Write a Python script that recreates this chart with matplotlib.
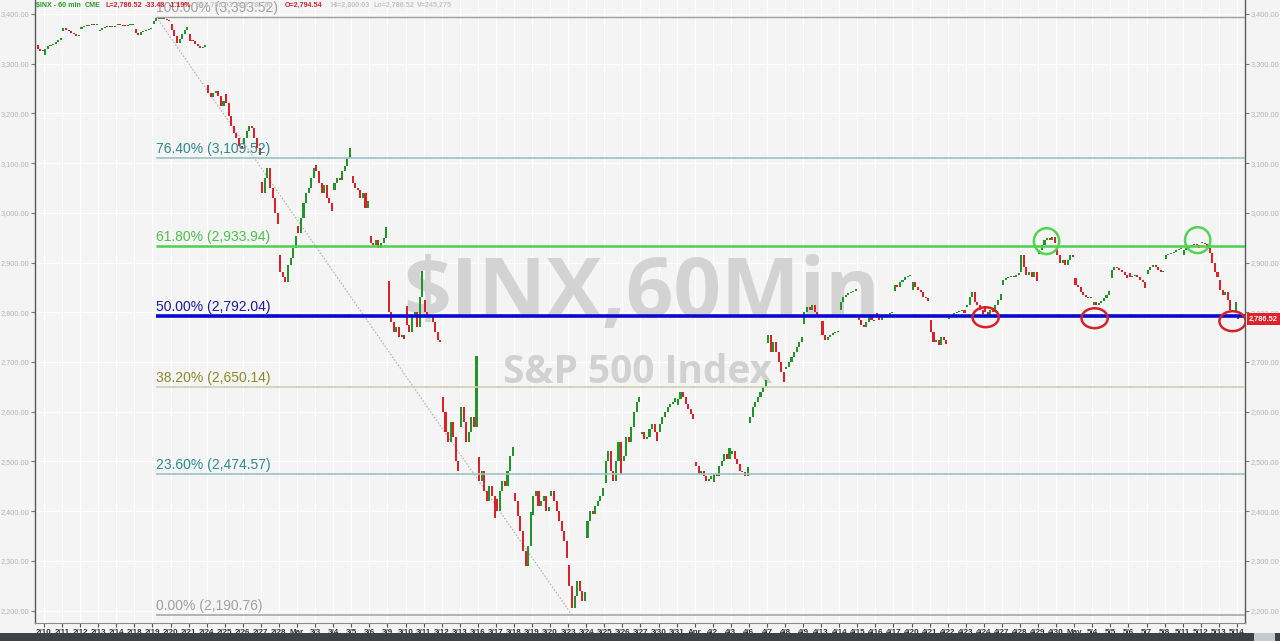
import numpy as np
import matplotlib.pyplot as plt
from matplotlib.patches import Ellipse, Rectangle

nan = float("nan")

# trading days, 2/7 sits just left of the visible window
day_labels = ["2/7", "2/10", "2/11", "2/12", "2/13", "2/14", "2/18", "2/19", "2/20", "2/21",
              "2/24", "2/25", "2/26", "2/27", "2/28", "Mar", "3/3", "3/4", "3/5", "3/6",
              "3/9", "3/10", "3/11", "3/12", "3/13", "3/16", "3/17", "3/18", "3/19", "3/20",
              "3/23", "3/24", "3/25", "3/26", "3/27", "3/30", "3/31", "Apr", "4/2", "4/3",
              "4/6", "4/7", "4/8", "4/9", "4/13", "4/14", "4/15", "4/16", "4/17", "4/20",
              "4/21", "4/22", "4/23", "4/24", "4/27", "4/28", "4/29", "4/30", "May", "5/4",
              "5/5", "5/6", "5/7", "5/8", "5/11", "5/12", "5/13", "5/14"]

day_open = [3337, 3318, 3365, 3370, 3365, 3378, 3369, 3380, 3380, 3360,
            3257, 3238, 3139, 3062, 2916, 2974, 3096, 3045, 3075, 2954,
            2863, 2813, 2825, 2630, 2570, 2508, 2425, 2436, 2393, 2431,
            2291, 2345, 2457, 2501, 2555, 2559, 2614, 2499, 2458, 2514,
            2578, 2738, 2685, 2776, 2782, 2805, 2795, 2799, 2843, 2845,
            2785, 2787, 2810, 2812, 2855, 2880, 2918, 2930, 2869, 2815,
            2868, 2878, 2877, 2908, 2915, 2939, 2865, 2794.54]

# hourly closes, 7 bars per session
feb_closes = [
    [nan, nan, nan, nan, 3330, 3326, 3327],
    [3330, 3335, 3338, 3340, 3344, 3348, 3352],
    [3372, 3368, 3365, 3362, 3360, 3356, 3357],
    [3374, 3376, 3375, 3377, 3378, 3377, 3379],
    [3368, 3372, 3374, 3375, 3373, 3376, 3373],
    [3380, 3378, 3376, 3375, 3377, 3378, 3380],
    [3362, 3358, 3363, 3366, 3368, 3370, 3370],
    [3385, 3392, 3390, 3391, 3390, 3388, 3386],
    [3368, 3355, 3342, 3350, 3360, 3367, 3373],
    [3346, 3345, 3340, 3335, 3332, 3334, 3338],
    [3240, 3232, 3240, 3245, 3235, 3215, 3225],
    [3220, 3195, 3175, 3160, 3150, 3135, 3128],
    [3150, 3165, 3175, 3170, 3150, 3130, 3116],
    [3040, 3070, 3090, 3050, 3030, 3000, 2978],
    [2880, 2870, 2860, 2895, 2910, 2930, 2954],
]
mar_closes = [
    [2960, 2990, 3020, 3040, 3050, 3070, 3090],
    [3085, 3060, 3040, 3055, 3030, 3020, 3003],
    [3060, 3070, 3065, 3085, 3095, 3110, 3130],
    [3060, 3050, 3045, 3030, 3040, 3010, 3023],
    [2940, 2935, 2945, 2930, 2940, 2950, 2972],
    [2800, 2780, 2760, 2770, 2750, 2755, 2746],
    [2775, 2760, 2790, 2800, 2770, 2830, 2882],
    [2800, 2790, 2795, 2780, 2760, 2745, 2741],
    [2600, 2560, 2540, 2580, 2550, 2500, 2480],
    [2610, 2580, 2540, 2560, 2590, 2570, 2711],
    [2460, 2480, 2440, 2420, 2450, 2430, 2386],
    [2400, 2440, 2460, 2450, 2480, 2510, 2529],
    [2420, 2390, 2360, 2320, 2290, 2330, 2398],
    [2430, 2440, 2410, 2420, 2430, 2400, 2409],
    [2440, 2420, 2400, 2380, 2360, 2340, 2305],
    [2250, 2205, 2230, 2260, 2240, 2220, 2237],
    [2380, 2400, 2395, 2410, 2420, 2430, 2447],
    [2500, 2520, 2480, 2460, 2500, 2540, 2475],
    [2510, 2550, 2540, 2570, 2600, 2620, 2630],
    [2560, 2545, 2550, 2565, 2575, 2560, 2541],
    [2575, 2590, 2600, 2610, 2615, 2620, 2627],
    [2625, 2640, 2630, 2615, 2605, 2595, 2585],
]
apr_closes = [
    [2490, 2475, 2480, 2470, 2460, 2465, 2470],
    [2475, 2470, 2490, 2500, 2515, 2505, 2526],
    [2520, 2505, 2495, 2480, 2478, 2470, 2489],
    [2590, 2610, 2620, 2630, 2640, 2650, 2664],
    [2755, 2720, 2740, 2720, 2700, 2680, 2659],
    [2690, 2700, 2710, 2720, 2730, 2740, 2750],
    [2800, 2810, 2805, 2815, 2800, 2790, 2790],
    [2755, 2745, 2750, 2755, 2758, 2760, 2762],
    [2820, 2830, 2835, 2838, 2840, 2843, 2846],
    [2785, 2775, 2770, 2780, 2790, 2785, 2783],
    [2790, 2785, 2795, 2790, 2795, 2798, 2800],
    [2855, 2850, 2860, 2865, 2870, 2872, 2875],
    [2860, 2850, 2845, 2840, 2830, 2828, 2823],
    [2760, 2740, 2745, 2735, 2750, 2745, 2736],
    [2790, 2795, 2798, 2800, 2803, 2805, 2799],
    [2815, 2830, 2840, 2820, 2815, 2805, 2797],
    [2800, 2795, 2805, 2800, 2815, 2825, 2837],
    [2865, 2868, 2870, 2872, 2870, 2875, 2878],
    [2915, 2890, 2875, 2880, 2870, 2880, 2863],
    [2925, 2935, 2945, 2950, 2945, 2952, 2939],
    [2915, 2900, 2905, 2895, 2905, 2915, 2912],
]
may_closes = [
    [2855, 2850, 2840, 2835, 2830, 2828, 2830],
    [2820, 2815, 2818, 2822, 2828, 2835, 2842],
    [2885, 2890, 2888, 2884, 2880, 2875, 2868],
    [2870, 2873, 2875, 2870, 2865, 2860, 2848],
    [2885, 2890, 2895, 2890, 2885, 2880, 2881],
    [2915, 2918, 2920, 2922, 2925, 2927, 2929],
    [2925, 2930, 2932, 2935, 2938, 2936, 2930],
    [2940, 2938, 2930, 2920, 2900, 2880, 2870],
    [2845, 2835, 2840, 2825, 2805, 2800, 2820],
    [2786.52, nan, nan, nan, nan, nan, nan],
]

fib_pcts = [100.0, 76.4, 61.8, 50.0, 38.2, 23.6, 0.0]
fib_prices = [3393.52, 3109.52, 2933.94, 2792.04, 2650.14, 2474.57, 2190.76]

# annotation circles (day position, price)
red_circle_x = [52.1, 58.13, 65.76]
red_circle_y = [2790, 2788, 2782]
green_circle_x = [55.47, 63.83]
green_circle_y = [2943, 2945]

last_price = 2786.52
y_ticks = list(range(2200, 3401, 100))

# ---- build candles ----
bars_per_day = 7
all_days = feb_closes + mar_closes + apr_closes + may_closes
xs, opens, closes = [], [], []
for k, day in enumerate(all_days):
    prev = None
    for j, c in enumerate(day):
        if np.isnan(c):
            continue
        o = day_open[k] if prev is None else prev
        xs.append(k - 1 + (j + 0.5) / bars_per_day)
        opens.append(o)
        closes.append(c)
        prev = c
xs = np.array(xs)
opens = np.array(opens)
closes = np.array(closes)

W, H = 1280, 641
fig = plt.figure(figsize=(12.8, 6.41), dpi=100, facecolor="#f4f4f4")
ax = fig.add_axes([35 / W, 18 / H, 1210 / W, 623 / H])
ax.set_facecolor("#f4f4f4")

ax.set_xlim(-0.5, 66.45)
ax.set_ylim(2175, 3428)

green_c = "#22952a"
red_c = "#de2028"
up = closes >= opens
body_low = np.minimum(opens, closes)
body_h = np.maximum(np.abs(closes - opens), 2.0)
ax.bar(xs, body_h, bottom=body_low, width=0.8 / bars_per_day,
       color=np.where(up, green_c, red_c), zorder=3, linewidth=0)

# fib retracement
x_high = xs[np.argmax(closes)]
x_low = xs[np.argmin(closes)]
ax.plot([x_high, x_low], [fib_prices[0], fib_prices[-1]], color="#b0b0b0",
        lw=0.8, ls=(0, (1.5, 1.5)), zorder=2)

line_colors = ["#a0a0a0", "#9cc2c4", "#4fcf4f", "#0a0ad0", "#cfcfac", "#9cc2c4", "#a8a8a8"]
text_colors = ["#a0a0a0", "#2e8a8c", "#4cc04c", "#1a1aa0", "#8a8a28", "#2e8a8c", "#a0a0a0"]
widths = [1.0, 1.2, 1.8, 2.6, 1.2, 1.2, 1.2]
for pct, price, lc, tc, lw in zip(fib_pcts, fib_prices, line_colors, text_colors, widths):
    ax.plot([x_high, 66.45], [price, price], color=lc, lw=lw, zorder=4,
            solid_capstyle="butt")
    ax.annotate(f"{pct:.2f}% ({price:,.2f})", (x_high, price), xytext=(0, 1.5),
                textcoords="offset points", ha="left", va="bottom", color=tc,
                fontsize=10, family=["Liberation Sans", "DejaVu Sans"], zorder=5,
                annotation_clip=False)

# watermark
ax.text(0.5017, 0.491, "$INX,60Min", transform=ax.transAxes, ha="center", va="baseline",
        fontsize=60, fontweight="bold", color="#d3d3d3", family=["Open Sans", "DejaVu Sans"],
        zorder=1)
ax.text(0.498, 0.385, "S&P 500 Index", transform=ax.transAxes, ha="center", va="baseline",
        fontsize=28, fontweight="bold", color="#d1d1d1", family=["Open Sans", "DejaVu Sans"],
        zorder=1)

# circles
for cx, cy in zip(red_circle_x, red_circle_y):
    ax.add_patch(Ellipse((cx, cy), 1.45, 40, fill=False, ec="#d42226", lw=1.8, zorder=6))
for cx, cy in zip(green_circle_x, green_circle_y):
    ax.add_patch(Ellipse((cx, cy), 1.4, 52, fill=False, ec="#52d452", lw=1.8, zorder=6))

# axes styling
small = ["Liberation Sans", "DejaVu Sans"]
ax.set_xticks(range(0, len(day_labels) - 1))
ax.set_xticklabels(day_labels[1:], fontsize=5.8, fontweight="bold", color="#333333",
                   family=small)
ax.set_yticks(y_ticks)
ax.set_yticklabels([f"{v:,.2f}" for v in y_ticks], fontsize=5.3, color="#b4b4b4",
                   family=small)
ax.tick_params(axis="x", length=3, pad=1, color="#555555")
ax.tick_params(axis="y", length=3, pad=1, color="#777777", labelright=True, right=True)
ax.grid(True, color="#ffffff", lw=0.9, zorder=0)
ax.set_axisbelow(True)
for side in ["left", "right"]:
    ax.spines[side].set_color("#5a5a5a")
    ax.spines[side].set_linewidth(1.0)
ax.spines["bottom"].set_color("#8a8a8a")
ax.spines["top"].set_visible(False)

# last price tag
ax.annotate(f"{last_price:,.2f}", (1.0, last_price),
            xycoords=ax.get_yaxis_transform(), xytext=(3, 0), textcoords="offset points",
            ha="left", va="center", fontsize=5.3, fontweight="bold", color="white",
            family=small, annotation_clip=False,
            bbox=dict(boxstyle="square,pad=0.3", fc="#e0222a", ec="none"), zorder=7)

# header, each piece placed right after the previous one
header = [("$INX - 60 min", "#2a9a2a", 0), ("CME", "#2a9a2a", 3),
          ("L=2,786.52", "#d42028", 3), ("-33.48", "#d42028", 2.5),
          ("-1.19%", "#d42028", 2.5), ("B=2,786.03", "#c4c4c4", 2.5),
          ("A=2,787.80", "#c4c4c4", 2.5), ("O=2,794.54", "#d42028", 8),
          ("Hi=2,800.03", "#c4c4c4", 6), ("Lo=2,786.52", "#c4c4c4", 2.5),
          ("V=245,275", "#c4c4c4", 2.5)]
prev_t = None
for s, c, gap in header:
    if prev_t is None:
        prev_t = fig.text(36 / W, 1 - 5.5 / H, s, color=c, fontsize=5.1, fontweight="bold",
                          family=small, ha="left", va="center")
    else:
        prev_t = ax.annotate(s, xy=(1, 0.5), xycoords=prev_t, xytext=(gap, 0),
                             textcoords="offset points", color=c, fontsize=5.1,
                             fontweight="bold", family=small, ha="left", va="center",
                             annotation_clip=False, zorder=8)

# bottom scroll bar
fig.patches.append(Rectangle((0, 0), 1, 8 / H, transform=fig.transFigure,
                             fc="#3b4249", ec="none"))
fig.patches.append(Rectangle((1254 / W, 0), 21 / W, 8 / H, transform=fig.transFigure,
                             fc="#c6cacf", ec="none"))

fig.savefig("out.png", dpi=100, facecolor=fig.get_facecolor())
